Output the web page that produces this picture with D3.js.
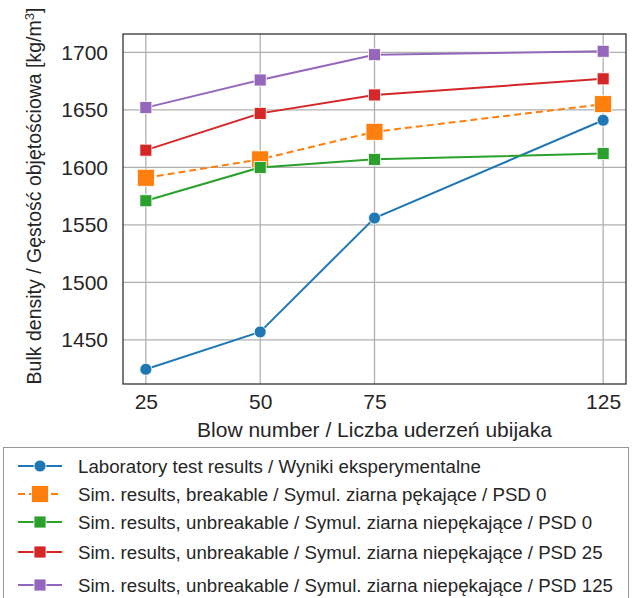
<!DOCTYPE html>
<html>
<head>
<meta charset="utf-8">
<script src="https://cdn.jsdelivr.net/npm/d3@7"></script>
<style>
body { margin: 0; background: #fff; }
text { font-family: "Liberation Sans", Arial, sans-serif; fill: #262626; }
</style>
</head>
<body>
<div id="chart"></div>
<script>
// blow numbers (x)
var blows = [25, 50, 75, 125]

// density values, one array per series
var labResults = [1424.5, 1457, 1556, 1641]
var simBreakable0 = [1591, 1607, 1631, 1655]
var simUnbreakable0 = [1571, 1600, 1607, 1612]
var simUnbreakable25 = [1615, 1647, 1663, 1677]
var simUnbreakable125 = [1652, 1676, 1698, 1701]

var yTicks = [1450, 1500, 1550, 1600, 1650, 1700]

var seriesNames = [
    "Laboratory test results / Wyniki eksperymentalne",
    "Sim. results, breakable / Symul. ziarna pękające / PSD 0",
    "Sim. results, unbreakable / Symul. ziarna niepękające / PSD 0",
    "Sim. results, unbreakable / Symul. ziarna niepękające / PSD 25",
    "Sim. results, unbreakable / Symul. ziarna niepękające / PSD 125"
]

var series = [
    { name: seriesNames[0], values: labResults, color: "#1f77b4", marker: "circle", size: 12, dash: null },
    { name: seriesNames[1], values: simBreakable0, color: "#ff7f0e", marker: "square", size: 17, dash: "7,4" },
    { name: seriesNames[2], values: simUnbreakable0, color: "#2ca02c", marker: "square", size: 12, dash: null },
    { name: seriesNames[3], values: simUnbreakable25, color: "#d62728", marker: "square", size: 12, dash: null },
    { name: seriesNames[4], values: simUnbreakable125, color: "#9467bd", marker: "square", size: 12, dash: null }
]

var width = 632
var height = 598
var margin = { left: 123, right: 6, top: 34, bottom: 214 }

var svg = d3.select("#chart")
    .append("svg")
    .attr("width", width)
    .attr("height", height)

var xScale = d3.scaleLinear().domain([20, 130]).range([margin.left, width - margin.right])
var yScale = d3.scaleLinear().domain([1411.7, 1716]).range([height - margin.bottom, margin.top])

// grid
svg.append("g")
    .selectAll("line")
    .data(blows)
    .enter()
    .append("line")
    .attr("x1", function (d) { return xScale(d) })
    .attr("x2", function (d) { return xScale(d) })
    .attr("y1", margin.top)
    .attr("y2", height - margin.bottom)
    .attr("stroke", "#b0b0b0")
    .attr("stroke-width", 1.3)

svg.append("g")
    .selectAll("line")
    .data(yTicks)
    .enter()
    .append("line")
    .attr("x1", margin.left)
    .attr("x2", width - margin.right)
    .attr("y1", function (d) { return yScale(d) })
    .attr("y2", function (d) { return yScale(d) })
    .attr("stroke", "#b0b0b0")
    .attr("stroke-width", 1.3)

// axes (tick labels only, no tick marks)
var xAxis = svg.append("g")
    .attr("transform", `translate(0,${height - margin.bottom})`)
    .call(d3.axisBottom(xScale).tickValues(blows).tickFormat(d3.format("d")).tickSize(0).tickPadding(10))
xAxis.select(".domain").remove()
xAxis.selectAll("text").style("font-size", "21px").attr("fill", "#262626")

var yAxis = svg.append("g")
    .attr("transform", `translate(${margin.left},0)`)
    .call(d3.axisLeft(yScale).tickValues(yTicks).tickFormat(d3.format("d")).tickSize(0).tickPadding(15))
yAxis.select(".domain").remove()
yAxis.selectAll("text").style("font-size", "21px").attr("fill", "#262626")

// frame
svg.append("rect")
    .attr("x", margin.left)
    .attr("y", margin.top)
    .attr("width", width - margin.right - margin.left)
    .attr("height", height - margin.bottom - margin.top)
    .attr("fill", "none")
    .attr("stroke", "#333")
    .attr("stroke-width", 1.3)

// axis titles
svg.append("text")
    .attr("x", (margin.left + width - margin.right) / 2)
    .attr("y", 437)
    .attr("text-anchor", "middle")
    .style("font-size", "21px")
    .text("Blow number / Liczba uderzeń ubijaka")

var yTitle = svg.append("text")
    .attr("transform", "translate(41,196) rotate(-90)")
    .attr("text-anchor", "middle")
    .style("font-size", "19.5px")
yTitle.append("tspan").text("Bulk density / Gęstość objętościowa [kg/m")
yTitle.append("tspan").attr("baseline-shift", "super").style("font-size", "13px").text("3")
yTitle.append("tspan").text("]")

var line = d3.line()
    .x(function (d, i) { return xScale(blows[i]) })
    .y(function (d) { return yScale(d) })

function drawMarker(g, s, cx, cy) {
    if (s.marker == "circle") {
        g.append("circle")
            .attr("cx", cx)
            .attr("cy", cy)
            .attr("r", s.size / 2)
            .attr("fill", s.color)
            .attr("stroke", "#fff")
            .attr("stroke-width", 0.8)
    } else {
        g.append("rect")
            .attr("x", cx - s.size / 2)
            .attr("y", cy - s.size / 2)
            .attr("width", s.size)
            .attr("height", s.size)
            .attr("fill", s.color)
            .attr("stroke", "#fff")
            .attr("stroke-width", 0.8)
    }
}

series.forEach(function (s) {
    var g = svg.append("g")
    g.append("path")
        .datum(s.values)
        .attr("d", line)
        .attr("fill", "none")
        .attr("stroke", s.color)
        .attr("stroke-width", 2)
        .attr("stroke-dasharray", s.dash)
    s.values.forEach(function (v, i) {
        drawMarker(g, s, xScale(blows[i]), yScale(v))
    })
})

// legend
var legend = svg.append("g")
legend.append("rect")
    .attr("x", 3.5)
    .attr("y", 447.5)
    .attr("width", 625)
    .attr("height", 170)
    .attr("fill", "#fff")
    .attr("stroke", "#999")
    .attr("stroke-width", 1)

var legendY = [466, 494, 522, 552, 585]
series.forEach(function (s, i) {
    var y = legendY[i]
    var entry = legend.append("g")
    entry.append("line")
        .attr("x1", 18)
        .attr("x2", 62)
        .attr("y1", y)
        .attr("y2", y)
        .attr("stroke", s.color)
        .attr("stroke-width", 2)
        .attr("stroke-dasharray", s.dash)
    drawMarker(entry, s, 40, y)
    entry.append("text")
        .attr("x", 78)
        .attr("y", y)
        .attr("dy", "0.35em")
        .style("font-size", "18.7px")
        .text(s.name)
})
</script>
</body>
</html>
